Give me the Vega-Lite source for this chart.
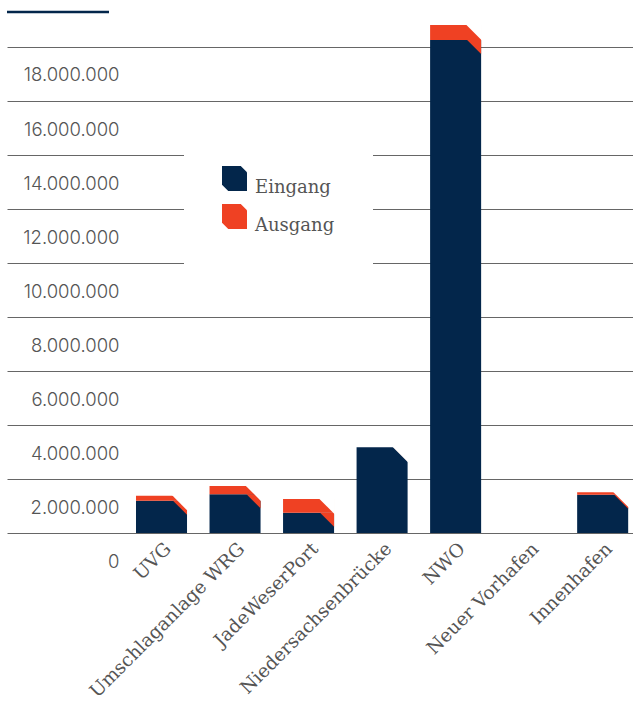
{
  "$schema": "https://vega.github.io/schema/vega-lite/v6.json",
  "width": 626,
  "height": 520,
  "autosize": "none",
  "padding": {"left": 7, "top": 13, "right": 0, "bottom": 176},
  "config": {"view": {"stroke": null}, "font": "DejaVu Serif"},
  "data": {
    "values": [
      {"hafen": "UVG", "typ": "Eingang", "wert": 1196000},
      {"hafen": "UVG", "typ": "Ausgang", "wert": 185000},
      {"hafen": "Umschlaganlage WRG", "typ": "Eingang", "wert": 1433000},
      {"hafen": "Umschlaganlage WRG", "typ": "Ausgang", "wert": 308000},
      {"hafen": "JadeWeserPort", "typ": "Eingang", "wert": 752000},
      {"hafen": "JadeWeserPort", "typ": "Ausgang", "wert": 507000},
      {"hafen": "Niedersachsenbrücke", "typ": "Eingang", "wert": 3174000},
      {"hafen": "Niedersachsenbrücke", "typ": "Ausgang", "wert": 0},
      {"hafen": "NWO", "typ": "Eingang", "wert": 18259000},
      {"hafen": "NWO", "typ": "Ausgang", "wert": 556000},
      {"hafen": "Neuer Vorhafen", "typ": "Eingang", "wert": 0},
      {"hafen": "Neuer Vorhafen", "typ": "Ausgang", "wert": 0},
      {"hafen": "Innenhafen", "typ": "Eingang", "wert": 1420000},
      {"hafen": "Innenhafen", "typ": "Ausgang", "wert": 87000}
    ]
  },
  "layer": [
    {
      "mark": {"type": "bar", "cornerRadius": 0},
      "encoding": {
        "x": {
          "field": "hafen",
          "type": "nominal",
          "sort": ["UVG", "Umschlaganlage WRG", "JadeWeserPort", "Niedersachsenbrücke", "NWO", "Neuer Vorhafen", "Innenhafen"],
          "scale": {"paddingInner": 0.306, "paddingOuter": 0.91, "align": 0.964},
          "axis": {
            "title": null,
            "labelAngle": -45,
            "labelFont": "DejaVu Serif",
            "labelFontSize": 18.5,
            "labelColor": "#555555",
            "labelPadding": 6,
            "labelLimit": 400,
            "ticks": false,
            "domain": false,
            "grid": false
          }
        },
        "y": {
          "field": "wert",
          "type": "quantitative",
          "stack": "zero",
          "scale": {"domain": [0, 19259259], "nice": false, "zero": true},
          "axis": {
            "title": null,
            "values": [0, 2000000, 4000000, 6000000, 8000000, 10000000, 12000000, 14000000, 16000000, 18000000],
            "labelExpr": "replace(format(datum.value, ','), regexp(',', 'g'), '.')",
            "grid": true,
            "gridColor": "#666666",
            "gridWidth": 1,
            "gridOpacity": 1,
            "ticks": false,
            "domain": false,
            "labelPadding": -112,
            "labelOffset": 28,
            "labelFont": "Inter",
            "labelFontWeight": 300,
            "labelFontSize": 18.5,
            "labelColor": "#555555"
          }
        },
        "color": {
          "field": "typ",
          "type": "nominal",
          "scale": {"domain": ["Eingang", "Ausgang"], "range": ["#03264b", "#ef4123"]},
          "legend": {
            "title": null,
            "orient": "none",
            "legendX": 177,
            "legendY": 115,
            "fillColor": "#ffffff",
            "padding": 38,
            "symbolOffset": 0,
            "symbolType": "M-1,-1 L0.5,-1 L1,-0.5 L1,1 L-0.5,1 L-1,0.5 Z",
            "symbolSize": 625,
            "symbolStrokeWidth": 0,
            "symbolOpacity": 1,
            "rowPadding": 7,
            "labelOffset": 8,
            "labelFont": "DejaVu Serif",
            "labelFontSize": 18,
            "labelColor": "#555555",
            "labelBaseline": "top"
          }
        },
        "order": {"field": "typ", "sort": "descending"}
      }
    },
    {
      "transform": [{"filter": "datum.typ === 'Eingang' && datum.wert > 0"}],
      "mark": {
        "type": "point",
        "filled": true,
        "opacity": 1,
        "strokeWidth": 0,
        "fill": "#ef4123",
        "shape": "M-1,0 L0,0 L0,1 Z",
        "size": 784,
        "xOffset": 25.5
      },
      "encoding": {
        "x": {"field": "hafen", "type": "nominal", "sort": ["UVG", "Umschlaganlage WRG", "JadeWeserPort", "Niedersachsenbrücke", "NWO", "Neuer Vorhafen", "Innenhafen"]},
        "y": {"field": "wert", "type": "quantitative"}
      }
    },
    {
      "transform": [
        {"aggregate": [{"op": "sum", "field": "wert", "as": "total"}], "groupby": ["hafen"]},
        {"filter": "datum.total > 0"}
      ],
      "mark": {
        "type": "point",
        "filled": true,
        "opacity": 1,
        "strokeWidth": 0,
        "fill": "#ffffff",
        "shape": "M-1.1,-0.06 L0.06,-0.06 L0.06,1.1 Z",
        "size": 784,
        "xOffset": 25.5
      },
      "encoding": {
        "x": {"field": "hafen", "type": "nominal", "sort": ["UVG", "Umschlaganlage WRG", "JadeWeserPort", "Niedersachsenbrücke", "NWO", "Neuer Vorhafen", "Innenhafen"]},
        "y": {"field": "total", "type": "quantitative"}
      }
    },
    {
      "data": {"values": [{"deko": 19296296}]},
      "mark": {"type": "rule", "color": "#03264b", "strokeWidth": 2.5},
      "encoding": {
        "y": {"field": "deko", "type": "quantitative"},
        "x": {"value": 0},
        "x2": {"value": 102}
      }
    }
  ]
}
